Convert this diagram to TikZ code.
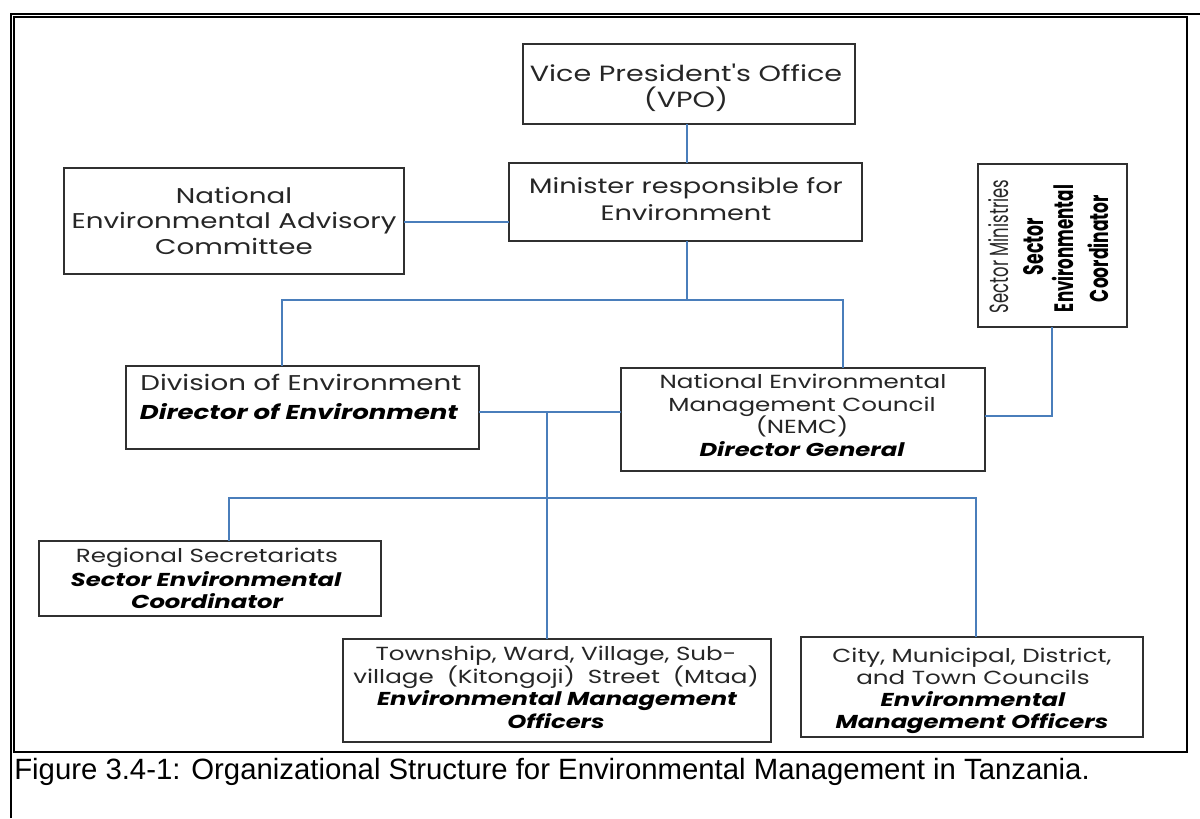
\documentclass[tikz,border=0pt]{standalone}
\usepackage{fontspec}
\usepackage{graphicx}
\newfontfamily\pop{Poppins}
\newfontfamily\popw[FakeStretch=1.3]{Poppins}
\newfontfamily\arialf{Liberation Sans}
\definecolor{conn}{HTML}{4A7EBB}
\definecolor{boxc}{HTML}{303030}
\definecolor{txtc}{HTML}{262626}
\tikzset{
  box/.style={draw=boxc, line width=1.1pt, inner sep=0pt, outer sep=0pt},
  cline/.style={draw=conn, line width=1.1pt},
  rg/.style={anchor=base, inner sep=0pt, text=txtc, font=\popw\fontsize{16}{19}\selectfont},
  rgs/.style={anchor=base, inner sep=0pt, text=txtc, font=\popw\fontsize{14.2}{17}\selectfont},
  bi/.style={anchor=base, inner sep=0pt, text=black, font=\popw\bfseries\itshape\fontsize{14}{17}\selectfont},
  bib/.style={anchor=base, inner sep=0pt, text=black, font=\popw\bfseries\itshape\fontsize{15}{18}\selectfont},
  rot/.style={anchor=base, inner sep=0pt, rotate=90},
}
\newcommand{\wsp}{\ \hspace{4.8pt}}
\begin{document}
\begin{tikzpicture}[x=0.75pt,y=-0.75pt]
\useasboundingbox (0,0) rectangle (1200,818);
\fill[white] (0,0) rectangle (1200,818);
% frames
\draw[line width=1.5pt] (11,818) -- (11,14) -- (1200,14);
\draw[line width=1.0pt] (14,752) -- (14,17) -- (1187,17) -- (1187,752) -- cycle;

% boxes
\node[box, minimum width=249pt, minimum height=60pt] (vpo) at (689,84) {};
\node[box, minimum width=264.75pt, minimum height=58.5pt] (min) at (685.5,202) {};
\node[box, minimum width=255pt, minimum height=79.5pt] (neac) at (234,221) {};
\node[box, minimum width=111.75pt, minimum height=122.25pt] (sec) at (1052.5,245.5) {};
\node[box, minimum width=264.75pt, minimum height=62.25pt] (div) at (302.5,407.5) {};
\node[box, minimum width=273pt, minimum height=77.25pt] (nemc) at (803,419.5) {};
\node[box, minimum width=256.5pt, minimum height=56.25pt] (reg) at (210,578.5) {};
\node[box, minimum width=321pt, minimum height=77.25pt] (town) at (557,690.5) {};
\node[box, minimum width=256.5pt, minimum height=75pt] (city) at (972,687) {};

% texts
\node[rg, font=\popw\fontsize{16.5}{19}\selectfont] (vpo1) at (686,81) {Vice President's Office};
\node[rg, font=\popw\fontsize{16.5}{19}\selectfont] (vpo2) at (686,107) {(VPO)};
\node[rg, font=\popw\fontsize{15.7}{19}\selectfont] (min1) at (686,193) {Minister responsible for};
\node[rg, font=\popw\fontsize{15.7}{19}\selectfont] (min2) at (686,220) {Environment};
\node[rg] (neac1) at (234,203) {National};
\node[rg] (neac2) at (234,228) {Environmental Advisory};
\node[rg] (neac3) at (234,254) {Committee};
\node[rg] (div1) at (301,390) {Division of Environment};
\node[bib] (div2) at (299,419) {Director of Environment};
\node[rgs] (nemc1) at (803,388) {National Environmental};
\node[rgs] (nemc2) at (802,411) {Management Council};
\node[rgs] (nemc3) at (802,433) {(NEMC)};
\node[bi] (nemc4) at (802,456) {Director General};
\node[rgs] (reg1) at (207,562) {Regional Secretariats};
\node[bi] (reg2) at (206,586) {Sector Environmental};
\node[bi] (reg3) at (207,608) {Coordinator};
\node[rgs] (town1) at (556,660) {Township, Ward, Village, Sub-};
\node[rgs] (town2) at (556,683) {village\wsp(Kitongoji)\wsp Street\wsp(Mtaa)};
\node[bi] (town3) at (557,705) {Environmental Management};
\node[bi] (town4) at (556,728) {Officers};
\node[rgs] (city1) at (972,662) {City, Municipal, District,};
\node[rgs] (city2) at (973,684) {and Town Councils};
\node[bi] (city3) at (973,706) {Environmental};
\node[bi] (city4) at (972,728) {Management Officers};
% rotated texts in sector box
\node[rot, text=txtc] (sec1) at (1008,246.5) {\resizebox{99.75pt}{15pt}{\pop Sector Ministries}};
\node[rot, text=black] (sec2) at (1043,246.5) {\resizebox{42.75pt}{15pt}{\pop\bfseries Sector}};
\node[rot, text=black] (sec3) at (1073,248.5) {\resizebox{95.25pt}{16pt}{\pop\bfseries Environmental}};
\node[rot, text=black] (sec4) at (1108,248.5) {\resizebox{80.25pt}{15.5pt}{\pop\bfseries Coordinator}};

% caption
\node[anchor=base west, inner sep=0pt, font=\arialf\fontsize{22}{26}\selectfont] (cap) at (14,779) {Figure 3.4-1: Organizational Structure for Environmental Management in Tanzania.};

% connectors
\coordinate (j1) at (687,300);
\coordinate (j2) at (282,300);
\coordinate (j3) at (843,300);
\coordinate (j4) at (1052,416);
\coordinate (j5) at (547,412);
\coordinate (j6) at (547,498);
\coordinate (j7) at (229,498);
\coordinate (j8) at (976,498);
\draw[cline] (vpo.south -| j1) -- (min.north -| j1);
\draw[cline] (neac.east |- 0,222) -- (min.west |- 0,222);
\draw[cline] (min.south -| j1) -- (j1);
\draw[cline] (div.north -| j2) -- (j2) -- (j3) -- (nemc.north -| j3);
\draw[cline] (sec.south -| j4) -- (j4) -- (nemc.east |- j4);
\draw[cline] (div.east |- j5) -- (nemc.west |- j5);
\draw[cline] (j5) -- (town.north -| j5);
\draw[cline] (reg.north -| j7) -- (j7) -- (j8) -- (city.north -| j8);
\end{tikzpicture}
\end{document}
